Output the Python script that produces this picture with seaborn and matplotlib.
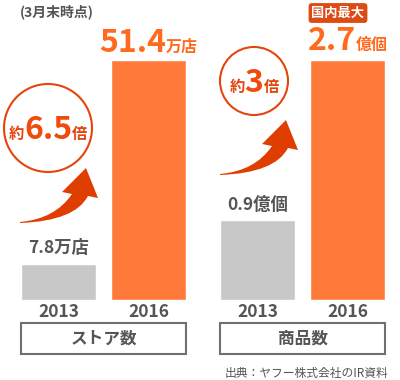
import matplotlib
matplotlib.use("Agg")
import matplotlib.pyplot as plt
import pandas as pd
import seaborn as sns
from matplotlib.patches import Ellipse, Rectangle, PathPatch
from matplotlib.path import Path

# data
years = ["2013", "2016"]
stores = [7.8, 51.4]      # 万店
items = [0.9, 2.7]        # 億個
store_unit = "万店"
item_unit = "億個"
store_ratio = "6.5"
item_ratio = "3"
panel_titles = ["ストア数", "商品数"]

W, H, DPI = 400, 380, 100
ORANGE = "#FF7A3A"
ORANGE_TXT = "#FF6A1E"
RED = "#E4450E"
GRAY_BAR = "#C8C8C8"
GRAY_TXT = "#555555"

sns.set_theme(style="white")
plt.rcParams["font.family"] = ["Noto Sans CJK JP", "DejaVu Sans"]

fig = plt.figure(figsize=(W / DPI, H / DPI), dpi=DPI)
fig.patch.set_facecolor("white")


def fx(x):
    return x / W


def fy(y):
    return 1 - y / H


def put_parts(host, xy, xycoords, parts, dy=0, va="baseline"):
    """lay out several text pieces side by side, centred on xy"""
    texts = []
    for s, size, color in parts:
        t = host.annotate(s, xy, xycoords=xycoords, xytext=(0, dy),
                          textcoords="offset points", ha="left", va=va,
                          fontsize=size, color=color, fontweight="bold",
                          annotation_clip=False)
        texts.append(t)
    r = fig.canvas.get_renderer()
    widths = [t.get_window_extent(r).width * 72 / DPI for t in texts]
    x = -sum(widths) / 2
    for t, w in zip(texts, widths):
        t.xyann = (x, dy)
        x += w


def arrow(tx, ty):
    rel = [(0, 0), (55, -2), (68, -27), (78, -25), (66, -55), (42, -31),
           (52, -29), (35, -4), (0, -1), (0, 0)]
    codes = [Path.MOVETO, Path.CURVE3, Path.CURVE3, Path.LINETO, Path.LINETO,
             Path.LINETO, Path.LINETO, Path.CURVE3, Path.CURVE3, Path.CLOSEPOLY]
    verts = [(fx(tx + dx), fy(ty + dy)) for dx, dy in rel]
    fig.patches.append(PathPatch(Path(verts, codes), transform=fig.transFigure,
                                 fc="#E03E00", ec="none", figure=fig))


bw = 0.8333
panels = [
    (21, stores, store_unit, 6, 11.5),
    (220, items, item_unit, 7, 11),
]
axes = []
for i, (left, vals, unit, big_dy, small_dy) in enumerate(panels):
    ax = fig.add_axes([fx(left), 80 / H, 165 / W, 240 / H])
    axes.append(ax)
    df = pd.DataFrame({"year": years, "value": vals})
    sns.barplot(data=df, x="year", y="value", hue="year",
                palette=[GRAY_BAR, ORANGE], width=bw, legend=False,
                saturation=1, ax=ax)
    ax.set_xlim(-bw / 2, 1 + bw / 2)
    ax.set_ylim(0, max(vals))
    sns.despine(ax=ax, left=True, bottom=True)
    ax.set_yticks([])
    ax.set_xlabel("")
    ax.set_ylabel("")
    ax.tick_params(axis="x", length=0, pad=2.5, labelsize=12.5,
                   labelcolor=GRAY_TXT)
    for lab in ax.get_xticklabels():
        lab.set_fontweight("bold")
    ax.set_facecolor("none")

    # value labels
    put_parts(ax, (0, vals[0]), "data", [(f"{vals[0]}{unit}", 12.5, GRAY_TXT)],
              dy=small_dy, va="center")
    put_parts(ax, (1, vals[1]), "data",
              [(f"{vals[1]}", 23, ORANGE_TXT), (unit, 11.5, ORANGE_TXT)],
              dy=big_dy)

    # category box
    fig.patches.append(Rectangle((fx(left), fy(354)), 165 / W, 31 / H,
                                 transform=fig.transFigure, fill=False,
                                 ec="#707070", lw=1.5, figure=fig))
    fig.text(fx(left + 82.5), fy(338.5), panel_titles[i], ha="center",
             va="center", fontsize=12, fontweight="bold", color=GRAY_TXT)

# growth circles
fig.patches.append(Ellipse((fx(48), fy(128)), 88 / W, 88 / H,
                           transform=fig.transFigure, fill=False, ec=RED,
                           lw=1.5, figure=fig))
put_parts(axes[0], (fx(48), fy(139)), "figure fraction",
          [("約", 11, RED), (store_ratio, 23, "#F04A0C"), ("倍", 11, RED)])
fig.patches.append(Ellipse((fx(254), fy(81)), 68 / W, 68 / H,
                           transform=fig.transFigure, fill=False, ec=RED,
                           lw=1.5, figure=fig))
put_parts(axes[0], (fx(254), fy(92)), "figure fraction",
          [("約", 11, RED), (item_ratio, 23, "#F04A0C"), ("倍", 11, RED)])

arrow(20, 223)
arrow(220, 175)

# badge
fig.text(fx(338), fy(13), "国内最大", ha="center", va="center", fontsize=9.5,
         fontweight="bold", color="white",
         bbox=dict(boxstyle="round,pad=0.22,rounding_size=0.25",
                   fc="#DC4B14", ec="none"))

fig.text(fx(20), fy(12), "(3月末時点)", ha="left", va="center",
         fontsize=10, fontweight="bold", color=GRAY_TXT)
fig.text(fx(388), fy(373), "出典：ヤフー株式会社のIR資料", ha="right",
         va="center", fontsize=8.5, color=GRAY_TXT)

fig.savefig("out.png", dpi=DPI, facecolor="white")
